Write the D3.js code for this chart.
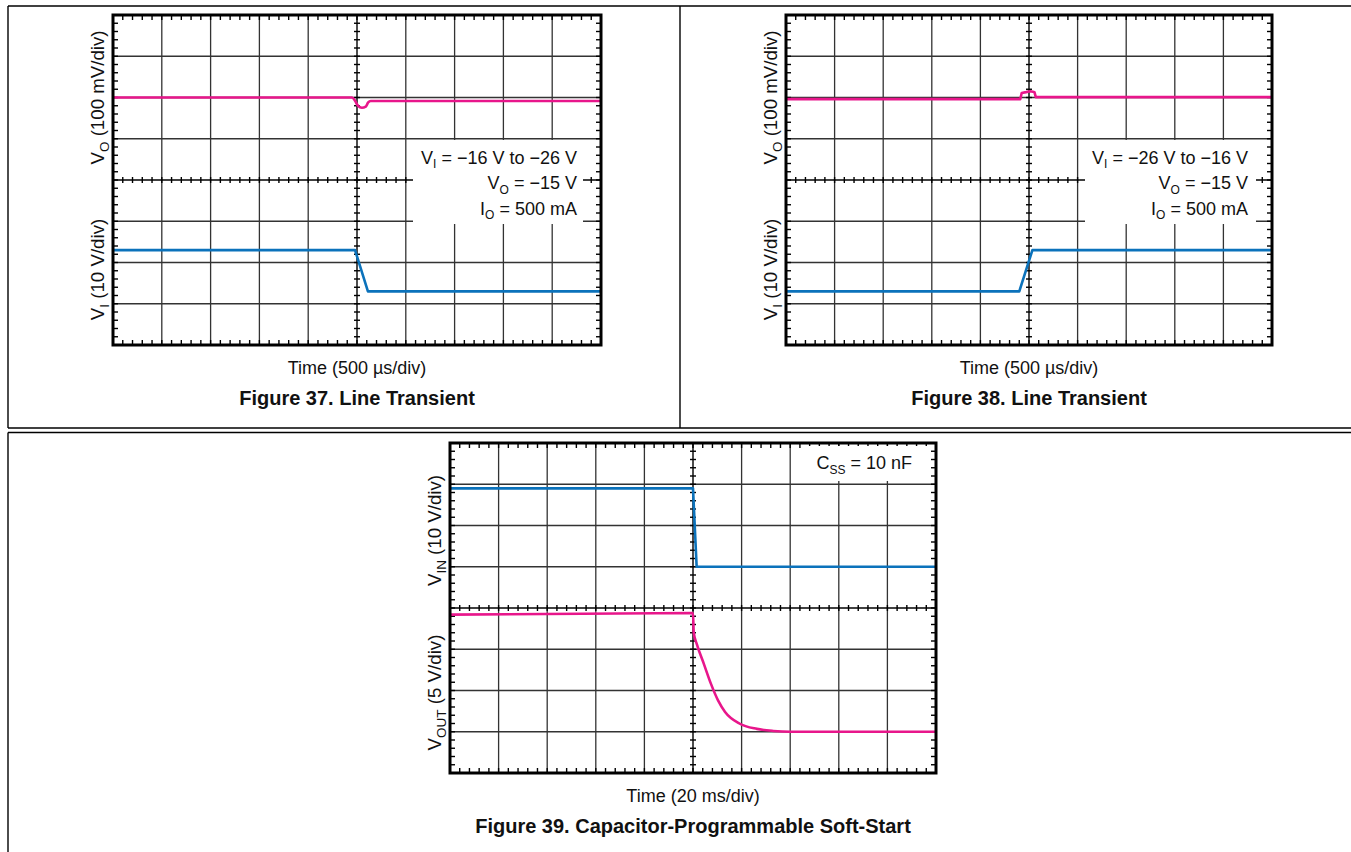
<!DOCTYPE html>
<html>
<head>
<meta charset="utf-8">
<script src="https://cdn.jsdelivr.net/npm/d3@7"></script>
<style>
body { margin: 0; background: #fff; }
svg { display: block; font-family: "Liberation Sans", Arial, sans-serif; }
</style>
</head>
<body>
<svg id="page" width="1351" height="852"></svg>
<script>
// Figure 37: line transient, -16 V to -26 V (time in us, Vo in mV deviation, Vi in V)
var fig37Time = [0, 2450, 2480, 2510, 2550, 2590, 2615, 2640, 5000];
var fig37Vo = [0, 0, -8, -20, -25, -22, -12, -8.5, -8.5];
var fig37ViTime = [0, 2480, 2612, 5000];
var fig37Vi = [-16, -16, -26, -26];

// Figure 38: line transient, -26 V to -16 V
var fig38Time = [0, 2410, 2425, 2470, 2510, 2540, 2556, 2570, 5000];
var fig38Vo = [-4, -4, 11, 13, 15, 14, 13, 1, 1];
var fig38ViTime = [0, 2400, 2535, 5000];
var fig38Vi = [-26, -26, -16, -16];

// Figure 39: soft-start (time in ms, volts)
var fig39VinTime = [0, 100, 101.5, 200];
var fig39Vin = [19, 19, 0, 0];
var fig39VoutTime = [0, 100, 100.3, 101.6, 104.5, 107.4, 110.3, 113.2, 119.1, 126.3, 133, 140, 200];
var fig39Vout = [14.2, 14.4, 12, 10.6, 8.2, 5.8, 3.8, 2.4, 1.0, 0.35, 0.1, 0, 0];

var pink = '#e8168b';
var blue = '#0b72bb';
var svg = d3.select('#page');

// page frames
var frame = svg.append('g').attr('stroke', '#000').attr('stroke-width', 1.4).attr('fill', 'none');
[[8, 6, 1351, 6], [8, 428, 1351, 428], [8, 6, 8, 428], [680, 6, 680, 428],
 [8, 432.5, 1351, 432.5], [8, 432.5, 8, 852]].forEach(function (l) {
    frame.append('line').attr('x1', l[0]).attr('y1', l[1]).attr('x2', l[2]).attr('y2', l[3]);
});

function richText(g, parts, attrs, subSize) {
    var t = g.append('text');
    Object.keys(attrs).forEach(function (k) { t.attr(k, attrs[k]); });
    var shifted = false;
    parts.forEach(function (p) {
        var s = t.append('tspan').text(p[0]);
        if (p[1]) {
            s.attr('font-size', subSize || 12).attr('dy', 4.5);
            shifted = true;
        } else if (shifted) {
            s.attr('dy', -4.5);
            shifted = false;
        }
    });
    return t;
}

function drawScope(o) {
    var g = svg.append('g');
    var right = o.left + o.width, bottom = o.top + o.height;
    var x = d3.scaleLinear().domain(o.xDomain).range([o.left, right]);
    var div = d3.scaleLinear().domain([0, 8]).range([o.top, bottom]);
    var xMid = (o.xDomain[0] + o.xDomain[1]) / 2;
    var step = (o.xDomain[1] - o.xDomain[0]) / 50;
    var xMinor = d3.range(0, 51).map(function (i) { return o.xDomain[0] + i * step; });
    var yMinor = d3.range(0, 41).map(function (i) { return i * 0.2; });

    var grid = g.append('g').attr('stroke', '#333').attr('stroke-width', 1.3);
    grid.selectAll('line.v').data(x.ticks(10).filter(function (d) {
        return d > o.xDomain[0] && d < o.xDomain[1] && d !== xMid;
    })).enter().append('line')
        .attr('x1', function (d) { return x(d); }).attr('x2', function (d) { return x(d); })
        .attr('y1', o.top).attr('y2', bottom);
    grid.selectAll('line.h').data([1, 2, 3, 5, 6, 7]).enter().append('line')
        .attr('x1', o.left).attr('x2', right)
        .attr('y1', function (d) { return div(d); }).attr('y2', function (d) { return div(d); });

    var axes = g.append('g').attr('stroke', '#000').attr('stroke-width', 1.4);
    axes.append('line').attr('x1', x(xMid)).attr('x2', x(xMid)).attr('y1', o.top).attr('y2', bottom);
    axes.append('line').attr('x1', o.left).attr('x2', right).attr('y1', div(4)).attr('y2', div(4));
    axes.selectAll('line.cx').data(xMinor).enter().append('line')
        .attr('x1', function (d) { return x(d); }).attr('x2', function (d) { return x(d); })
        .attr('y1', div(4) - 3).attr('y2', div(4) + 3);
    axes.selectAll('line.cy').data(yMinor).enter().append('line')
        .attr('x1', x(xMid) - 3).attr('x2', x(xMid) + 3)
        .attr('y1', function (d) { return div(d); }).attr('y2', function (d) { return div(d); });
    // border ticks pointing inward
    axes.selectAll('line.tt').data(xMinor).enter().append('line')
        .attr('x1', function (d) { return x(d); }).attr('x2', function (d) { return x(d); })
        .attr('y1', o.top).attr('y2', o.top + 5);
    axes.selectAll('line.tb').data(xMinor).enter().append('line')
        .attr('x1', function (d) { return x(d); }).attr('x2', function (d) { return x(d); })
        .attr('y1', bottom - 5).attr('y2', bottom);
    axes.selectAll('line.tl').data(yMinor).enter().append('line')
        .attr('x1', o.left).attr('x2', o.left + 5)
        .attr('y1', function (d) { return div(d); }).attr('y2', function (d) { return div(d); });
    axes.selectAll('line.tr').data(yMinor).enter().append('line')
        .attr('x1', right - 5).attr('x2', right)
        .attr('y1', function (d) { return div(d); }).attr('y2', function (d) { return div(d); });

    // annotation box
    g.append('rect').attr('x', o.box[0]).attr('y', o.box[1])
        .attr('width', o.box[2]).attr('height', o.box[3]).attr('fill', '#fff');
    o.notes.forEach(function (n, i) {
        richText(g, n, { x: o.noteX, y: o.noteY + i * 25.5, 'text-anchor': 'end', 'font-size': 18, fill: '#111' });
    });

    o.traces.forEach(function (t) {
        var y = d3.scaleLinear().domain(t.domain).range([bottom, o.top]);
        var line = d3.line()
            .x(function (d) { return x(d[0]); })
            .y(function (d) { return y(d[1]); })
            .curve(t.smooth ? d3.curveMonotoneX : d3.curveLinear);
        g.append('path').attr('d', line(d3.zip(t.time, t.values)))
            .attr('fill', 'none').attr('stroke', t.color).attr('stroke-width', 2.6)
            .attr('stroke-linejoin', 'round');
    });

    g.append('rect').attr('x', o.left).attr('y', o.top).attr('width', o.width).attr('height', o.height)
        .attr('fill', 'none').attr('stroke', '#000').attr('stroke-width', 3);

    // labels
    var cx = (o.left + right) / 2;
    o.yLabels.forEach(function (lab, i) {
        var cy = div(i === 0 ? 2 : 6) + o.yLabelShift[i];
        richText(g, lab, {
            transform: 'translate(' + (o.left - 9) + ',' + cy + ') rotate(-90)',
            'text-anchor': 'middle', 'font-size': 18.7, fill: '#111'
        }, 13.5);
    });
    g.append('text').attr('x', cx).attr('y', bottom + 29).attr('text-anchor', 'middle')
        .attr('font-size', 18).attr('fill', '#111').text(o.xLabel);
    g.append('text').attr('x', cx).attr('y', bottom + 60).attr('text-anchor', 'middle')
        .attr('font-size', 20).attr('font-weight', 'bold').attr('fill', '#111').text(o.title);
}

var voDomain = [-600, 200];
var viDomain = [-39, 41];

drawScope({
    left: 113, top: 15, width: 488, height: 330, xDomain: [0, 5000],
    box: [413, 140, 170, 84], noteX: 577, noteY: 163.5,
    notes: [[['V'], ['I', true], [' = \u221216 V to \u221226 V']], [['V'], ['O', true], [' = \u221215 V']], [['I'], ['O', true], [' = 500 mA']]],
    traces: [
        { time: fig37ViTime, values: fig37Vi, domain: viDomain, color: blue },
        { time: fig37Time, values: fig37Vo, domain: voDomain, color: pink, smooth: true }
    ],
    yLabels: [[['V'], ['O', true], [' (100 mV/div)']], [['V'], ['I', true], [' (10 V/div)']]],
    yLabelShift: [0, 7],
    xLabel: 'Time (500 \u00b5s/div)', title: 'Figure 37. Line Transient'
});

drawScope({
    left: 786, top: 15, width: 486, height: 330, xDomain: [0, 5000],
    box: [1085, 140, 171, 84], noteX: 1248, noteY: 163.5,
    notes: [[['V'], ['I', true], [' = \u221226 V to \u221216 V']], [['V'], ['O', true], [' = \u221215 V']], [['I'], ['O', true], [' = 500 mA']]],
    traces: [
        { time: fig38ViTime, values: fig38Vi, domain: viDomain, color: blue },
        { time: fig38Time, values: fig38Vo, domain: voDomain, color: pink }
    ],
    yLabels: [[['V'], ['O', true], [' (100 mV/div)']], [['V'], ['I', true], [' (10 V/div)']]],
    yLabelShift: [0, 7],
    xLabel: 'Time (500 \u00b5s/div)', title: 'Figure 38. Line Transient'
});

drawScope({
    left: 450, top: 443, width: 486, height: 330, xDomain: [0, 200],
    box: [806, 446, 121, 35], noteX: 912, noteY: 469,
    notes: [[['C'], ['SS', true], [' = 10 nF']]],
    traces: [
        { time: fig39VinTime, values: fig39Vin, domain: [-50, 30], color: blue },
        { time: fig39VoutTime, values: fig39Vout, domain: [-5, 35], color: pink, smooth: true }
    ],
    yLabels: [[['V'], ['IN', true], [' (10 V/div)']], [['V'], ['OUT', true], [' (5 V/div)']]],
    yLabelShift: [5, 2],
    xLabel: 'Time (20 ms/div)', title: 'Figure 39. Capacitor-Programmable Soft-Start'
});
</script>
</body>
</html>
